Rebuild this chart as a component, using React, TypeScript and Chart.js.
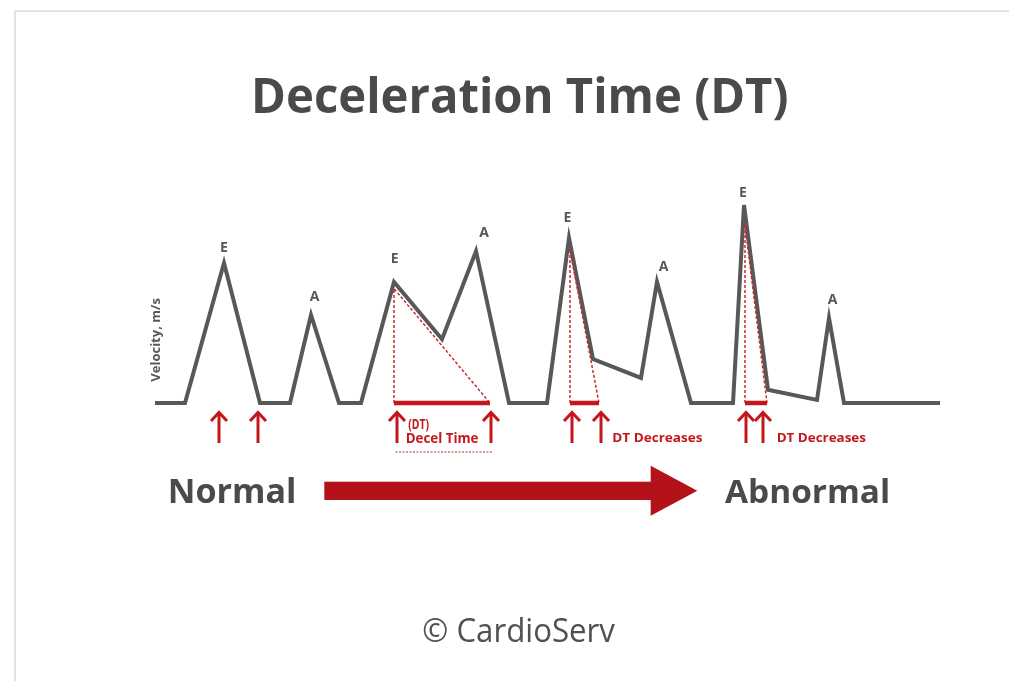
import { useEffect, useRef } from 'react';
import { Chart, registerables } from 'chart.js';

Chart.register(...registerables);

// ---- Data (time in ms-like units from the start of the trace, velocity in relative units) ----
const waveTime = [0, 30, 69, 105, 135, 156, 184, 206, 239, 287, 321, 354, 392, 414, 438, 486, 502, 536, 578, 589, 613, 662, 674, 689, 785];
const waveVelocity = [0, 0, 63.6, 0, 0, 40, 0, 0, 55, 29, 69, 0, 0, 75, 20, 11.4, 55, 0, 0, 90, 6, 1.4, 38.6, 0, 0];

// Deceleration-time triangles (E peak -> extrapolated baseline crossing)
const dtStart = [239, 415, 590];
const dtPeakVelocity = [52, 69.5, 81];
const dtEnd = [335, 444, 612];

// Red arrows under the baseline
const arrowTimes = [64, 103, 242, 336, 417, 446, 591, 608];

// Peak labels
const peakLabels = ['E', 'A', 'E', 'A', 'E', 'A', 'E', 'A'];
const labelTime = [69, 159.5, 239.7, 329, 412.5, 508.5, 587.8, 677.5];
const labelVelocity = [68.5, 46.4, 63.5, 75.6, 82.1, 60.1, 93.5, 45];

// Annotation texts below the baseline
const noteTexts = ['(DT)', 'Decel Time', 'DT Decreases', 'DT Decreases'];
const noteTime = [253.3, 251.7, 458.3, 622.7];

const FONT = '"Open Sans", "DejaVu Sans", sans-serif';
const GRAY = '#585858';
const TEXT_GRAY = '#4a4a4a';
const RED = '#c4161c';
const RED_DASH = '#cc2a2a';
const ARROW_RED = '#b3121a';

function fitText(
  ctx: CanvasRenderingContext2D,
  text: string,
  left: number,
  baseline: number,
  width: number,
  cap: number,
  weight: string,
  color: string
) {
  ctx.save();
  ctx.textAlign = 'left';
  ctx.textBaseline = 'alphabetic';
  ctx.font = `${weight} 100px ${FONT}`;
  const capRatio = ctx.measureText('H').actualBoundingBoxAscent / 100 || 0.714;
  const size = cap / capRatio;
  ctx.font = `${weight} ${size}px ${FONT}`;
  const m = ctx.measureText(text);
  const w = m.actualBoundingBoxLeft + m.actualBoundingBoxRight;
  ctx.translate(left, baseline);
  ctx.scale(width / w, 1);
  ctx.fillStyle = color;
  ctx.fillText(text, m.actualBoundingBoxLeft, 0);
  ctx.restore();
}

const annotationPlugin = {
  id: 'annotations',
  afterDraw(chart: any) {
    const ctx: CanvasRenderingContext2D = chart.ctx;
    const xs = chart.scales.x;
    const ys = chart.scales.y;
    const base = ys.getPixelForValue(0);
    ctx.save();

    // frame
    ctx.fillStyle = '#e3e3e3';
    ctx.fillRect(14, 10, 995, 2);
    ctx.fillRect(14, 10, 2, 671);

    // title
    fitText(ctx, 'Deceleration Time (DT)', 255, 113.3, 532, 35, 'bold', TEXT_GRAY);

    // y-axis label
    ctx.save();
    ctx.translate(160, 381.7);
    ctx.rotate(-Math.PI / 2);
    fitText(ctx, 'Velocity, m/s', 0, 0, 83.7, 8.5, 'bold', GRAY);
    ctx.restore();

    // peak labels
    ctx.font = `bold 14px ${FONT}`;
    ctx.textAlign = 'center';
    ctx.textBaseline = 'alphabetic';
    ctx.fillStyle = GRAY;
    peakLabels.forEach((lab, i) => {
      ctx.fillText(lab, xs.getPixelForValue(labelTime[i]), ys.getPixelForValue(labelVelocity[i]));
    });

    // arrows
    ctx.strokeStyle = RED;
    ctx.lineWidth = 3;
    ctx.lineJoin = 'miter';
    ctx.lineCap = 'butt';
    arrowTimes.forEach((t) => {
      const px = xs.getPixelForValue(t);
      const top = base + 8.5;
      ctx.beginPath();
      ctx.moveTo(px, top + 1);
      ctx.lineTo(px, base + 40);
      ctx.stroke();
      ctx.beginPath();
      ctx.moveTo(px - 8, top + 9.5);
      ctx.lineTo(px, top + 1);
      ctx.lineTo(px + 8, top + 9.5);
      ctx.stroke();
    });

    // notes
    fitText(ctx, noteTexts[0], xs.getPixelForValue(noteTime[0]), base + 26, 21, 9.8, 'bold', RED);
    fitText(ctx, noteTexts[1], xs.getPixelForValue(noteTime[1]), base + 40.3, 71.6, 10, 'bold', RED);
    fitText(ctx, noteTexts[2], xs.getPixelForValue(noteTime[2]), base + 39.3, 89, 9, 'bold', RED);
    fitText(ctx, noteTexts[3], xs.getPixelForValue(noteTime[3]), base + 39.3, 88, 9, 'bold', RED);

    // dashed underline under "Decel Time"
    ctx.save();
    ctx.strokeStyle = RED_DASH;
    ctx.lineWidth = 1;
    ctx.setLineDash([2, 1.5]);
    ctx.beginPath();
    ctx.moveTo(xs.getPixelForValue(dtStart[0]) + 1.5, base + 49);
    ctx.lineTo(xs.getPixelForValue(dtEnd[0]) + 2, base + 49);
    ctx.stroke();
    ctx.restore();

    // Normal -> Abnormal arrow
    fitText(ctx, 'Normal', 170.7, 502.7, 123.3, 24.4, 'bold', TEXT_GRAY);
    fitText(ctx, 'Abnormal', 725, 503.3, 163.3, 23.3, 'bold', TEXT_GRAY);
    ctx.fillStyle = ARROW_RED;
    ctx.fillRect(324.3, 481.7, 327, 18.3);
    ctx.beginPath();
    ctx.moveTo(650.7, 465.7);
    ctx.lineTo(697.3, 490.8);
    ctx.lineTo(650.7, 515.7);
    ctx.closePath();
    ctx.fill();

    // copyright
    fitText(ctx, '© CardioServ', 423.3, 641.7, 191.7, 23.3, 'normal', '#505050');

    ctx.restore();
  },
};

export default function App() {
  const ref = useRef<HTMLCanvasElement>(null);

  useEffect(() => {
    const canvas = ref.current;
    if (!canvas) return;
    const wave = waveTime.map((t, i) => ({ x: t, y: waveVelocity[i] }));
    const datasets: any[] = [
      {
        label: 'Mitral inflow',
        data: wave,
        borderColor: GRAY,
        borderWidth: 4,
        pointRadius: 0,
        borderJoinStyle: 'miter',
        borderCapStyle: 'butt',
        tension: 0,
        order: 3,
        clip: false,
      },
      ...dtStart.map((t, i) => ({
        label: 'DT construction ' + (i + 1),
        data: [
          { x: t, y: 0 },
          { x: t, y: dtPeakVelocity[i] },
          { x: dtEnd[i], y: 0 },
        ],
        borderColor: RED_DASH,
        borderWidth: 1.5,
        borderDash: [3, 2],
        pointRadius: 0,
        tension: 0,
        order: 2,
        clip: false,
      })),
      ...dtStart.map((t, i) => ({
        label: 'DT ' + (i + 1),
        data: [
          { x: t, y: 0 },
          { x: dtEnd[i], y: 0 },
        ],
        borderColor: RED,
        borderWidth: 4.5,
        pointRadius: 0,
        borderCapStyle: 'butt',
        order: 1,
        clip: false,
      })),
    ];

    const chart = new Chart(canvas, {
      type: 'line',
      data: { datasets },
      options: {
        animation: false,
        responsive: false,
        devicePixelRatio: 1,
        events: [],
        layout: {
          autoPadding: false,
          padding: { left: 155, right: 69, top: 183, bottom: 278 },
        },
        scales: {
          x: { type: 'linear', min: 0, max: 785, display: false },
          y: { type: 'linear', min: 0, max: 100, display: false },
        },
        plugins: {
          legend: { display: false },
          tooltip: { enabled: false },
        },
      } as any,
      plugins: [annotationPlugin],
    });

    return () => chart.destroy();
  }, []);

  return (
    <canvas
      ref={ref}
      width={1009}
      height={681}
      style={{ position: 'fixed', left: 0, top: 0, width: 1009, height: 681, background: '#fff' }}
    />
  );
}
